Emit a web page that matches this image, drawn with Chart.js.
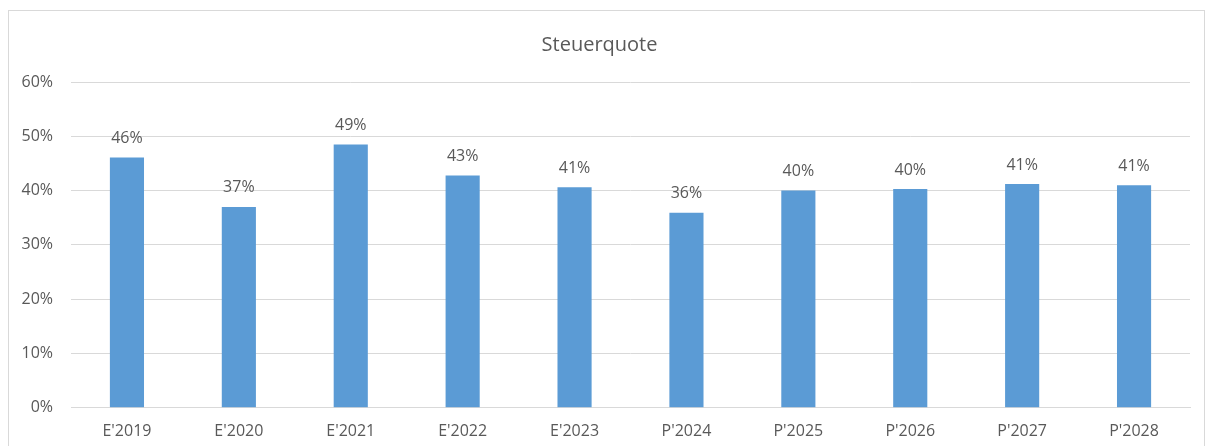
<!DOCTYPE html>
<html>
<head>
<meta charset="utf-8">
<script src="https://cdn.jsdelivr.net/npm/chart.js@4"></script>
<style>
  html, body { margin: 0; padding: 0; background: #fff; overflow: hidden; }
  #wrap {
    position: absolute; left: 8px; top: 10px;
    width: 1197px; height: 446px;
    border: 1px solid #d9d9d9; box-sizing: border-box;
  }
</style>
</head>
<body>
<div id="wrap"><canvas id="graph-bar"></canvas></div>
<script>
// chart data
const categories = ["E'2019", "E'2020", "E'2021", "E'2022", "E'2023", "P'2024", "P'2025", "P'2026", "P'2027", "P'2028"];
const steuerquote = [46.1, 37.0, 48.5, 42.8, 40.6, 35.9, 40.0, 40.3, 41.2, 41.0];
const yTicks = [0, 10, 20, 30, 40, 50, 60];

const textColor = '#595959';
const fontFamily = '"Open Sans", "Liberation Sans", sans-serif';

// labels above each bar, positioned from the bar elements
const barLabels = {
    id: 'barLabels',
    afterDatasetsDraw(chart) {
        const ctx = chart.ctx;
        const meta = chart.getDatasetMeta(0);
        ctx.save();
        ctx.font = '16px ' + fontFamily;
        ctx.fillStyle = textColor;
        ctx.textAlign = 'center';
        ctx.textBaseline = 'middle';
        meta.data.forEach(function(bar, i) {
            ctx.fillText(Math.round(steuerquote[i]) + '%', bar.x, bar.y - 19);
        });
        ctx.restore();
    }
};

const gb1 = document.getElementById('graph-bar');

var ch_gb1 = new Chart(gb1, {
    type: 'bar',
    data: {
        labels: categories,
        datasets: [{
            label: 'Steuerquote',
            data: steuerquote,
            backgroundColor: '#5b9bd5',
            categoryPercentage: 1,
            barPercentage: 0.305
        }]
    },
    options: {
        responsive: true,
        maintainAspectRatio: false,
        animation: false,
        layout: { padding: { left: 0, right: 14, top: 0, bottom: 0 } },
        plugins: {
            legend: { display: false },
            tooltip: { enabled: false },
            title: {
                display: true,
                text: 'Steuerquote',
                color: textColor,
                font: { family: fontFamily, size: 20, weight: 'normal' },
                padding: { top: 22, bottom: 25 }
            }
        },
        scales: {
            x: {
                grid: { display: false, drawTicks: false },
                border: { display: true, color: '#d9d9d9' },
                ticks: {
                    color: textColor,
                    font: { family: fontFamily, size: 16 },
                    padding: 14
                }
            },
            y: {
                min: 0,
                max: 60,
                afterBuildTicks: function(scale) {
                    scale.ticks = yTicks.map(function(v) { return { value: v }; });
                },
                afterFit: function(scale) { scale.width = 62; },
                grid: { color: '#d9d9d9', drawTicks: false },
                border: { display: false },
                ticks: {
                    color: textColor,
                    font: { family: fontFamily, size: 16 },
                    padding: 18,
                    callback: function(v) { return v + '%'; }
                }
            }
        }
    },
    plugins: [barLabels]
});
</script>
</body>
</html>
